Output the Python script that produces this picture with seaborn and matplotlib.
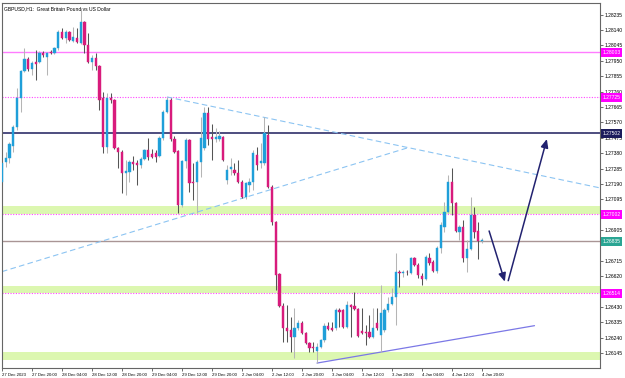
import numpy as np
import pandas as pd
import matplotlib
matplotlib.use("Agg")
import matplotlib.pyplot as plt
import matplotlib.transforms as mtransforms
import seaborn as sns

# ==========================================
# DATA  (GBPUSD H1, 27 Dec 2023 - 4 Jan 2024)
# ==========================================

opens = [1.27202, 1.27325, 1.27350, 1.27424, 1.27541, 1.27721, 1.27887, 1.27962, 1.27900, 1.27943,
         1.27943, 1.27999, 1.27974, 1.28005, 1.27999, 1.28030, 1.28128, 1.28091, 1.28128, 1.28073,
         1.28091, 1.28060, 1.28190, 1.28048, 1.27943, 1.27968, 1.27918, 1.27721, 1.27418, 1.27721,
         1.27708, 1.27412, 1.27387, 1.27257, 1.27263, 1.27325, 1.27319, 1.27307, 1.27344, 1.27399,
         1.27375, 1.27381, 1.27362, 1.27473, 1.27634, 1.27708, 1.27467, 1.27393, 1.27060, 1.27331,
         1.27461, 1.27202, 1.27202, 1.27325, 1.27412, 1.27628, 1.27480, 1.27467, 1.27467, 1.27480,
         1.27214, 1.27282, 1.27276, 1.27257, 1.27202, 1.27109, 1.27183, 1.27202, 1.27368, 1.27319,
         1.27319, 1.27492, 1.27171, 1.26955, 1.26633, 1.26436, 1.26300, 1.26287, 1.26244, 1.26300,
         1.26331, 1.26269, 1.26207, 1.26182, 1.26158, 1.26182, 1.26226, 1.26312, 1.26300, 1.26300,
         1.26411, 1.26411, 1.26306, 1.26442, 1.26436, 1.26417, 1.26281, 1.26275, 1.26275, 1.26244,
         1.26331, 1.26256, 1.26287, 1.26411, 1.26448, 1.26491, 1.26646, 1.26639, 1.26646, 1.26639,
         1.26732, 1.26689, 1.26621, 1.26602, 1.26732, 1.26707, 1.26652, 1.26794, 1.26924, 1.27016,
         1.27202, 1.27072, 1.26893, 1.26924, 1.26732, 1.26788, 1.26998, 1.26899, 1.26837]

highs = [1.27338, 1.27387, 1.27449, 1.27554, 1.27782, 1.27894, 1.28030, 1.27974, 1.27949, 1.28017,
         1.28011, 1.28011, 1.28005, 1.28017, 1.28036, 1.28141, 1.28153, 1.28141, 1.28134, 1.28159,
         1.28153, 1.28277, 1.28196, 1.28122, 1.27986, 1.27999, 1.27924, 1.27758, 1.27751, 1.27751,
         1.27714, 1.27418, 1.27399, 1.27338, 1.27338, 1.27362, 1.27338, 1.27356, 1.27406, 1.27473,
         1.27406, 1.27399, 1.27486, 1.27646, 1.27727, 1.27721, 1.27486, 1.27399, 1.27338, 1.27473,
         1.27467, 1.27319, 1.27338, 1.27603, 1.27665, 1.27665, 1.27560, 1.27535, 1.27517, 1.27486,
         1.27307, 1.27350, 1.27319, 1.27338, 1.27214, 1.27202, 1.27226, 1.27399, 1.27418, 1.27443,
         1.27603, 1.27554, 1.27183, 1.26961, 1.26639, 1.26454, 1.26442, 1.26368, 1.26423, 1.26349,
         1.26343, 1.26275, 1.26213, 1.26213, 1.26207, 1.26232, 1.26331, 1.26337, 1.26337, 1.26423,
         1.26423, 1.26417, 1.26466, 1.26448, 1.26522, 1.26423, 1.26423, 1.26318, 1.26380, 1.26423,
         1.26423, 1.26565, 1.26423, 1.26491, 1.26547, 1.26763, 1.26658, 1.26658, 1.26658, 1.26738,
         1.26738, 1.26701, 1.26639, 1.26751, 1.26763, 1.26720, 1.26806, 1.26955, 1.27078, 1.27245,
         1.27288, 1.27078, 1.26936, 1.26967, 1.26843, 1.27109, 1.27047, 1.26955, 1.26856]

lows = [1.27183, 1.27294, 1.27319, 1.27387, 1.27523, 1.27634, 1.27881, 1.27887, 1.27863, 1.27832,
        1.27937, 1.27974, 1.27863, 1.27992, 1.27992, 1.28017, 1.28085, 1.28060, 1.28073, 1.28067,
        1.28060, 1.28054, 1.27999, 1.27937, 1.27894, 1.27894, 1.27646, 1.27381, 1.27381, 1.27690,
        1.27406, 1.27288, 1.27134, 1.27121, 1.27202, 1.27276, 1.27183, 1.27288, 1.27338, 1.27338,
        1.27350, 1.27325, 1.27356, 1.27461, 1.27628, 1.27455, 1.27381, 1.27010, 1.27047, 1.27288,
        1.27140, 1.27090, 1.27010, 1.27233, 1.27399, 1.27430, 1.27338, 1.27449, 1.27455, 1.27331,
        1.27189, 1.27245, 1.27245, 1.27195, 1.27103, 1.27097, 1.27140, 1.27152, 1.27276, 1.27288,
        1.27307, 1.27164, 1.26936, 1.26534, 1.26429, 1.26213, 1.26213, 1.26151, 1.26114, 1.26287,
        1.26263, 1.26201, 1.26151, 1.26151, 1.26083, 1.26176, 1.26213, 1.26287, 1.26281, 1.26287,
        1.26306, 1.26300, 1.26300, 1.26244, 1.26411, 1.26244, 1.26263, 1.26195, 1.26238, 1.26238,
        1.26287, 1.26151, 1.26275, 1.26398, 1.26442, 1.26318, 1.26553, 1.26615, 1.26627, 1.26633,
        1.26683, 1.26609, 1.26565, 1.26596, 1.26689, 1.26646, 1.26639, 1.26763, 1.26893, 1.27010,
        1.26998, 1.26893, 1.26843, 1.26707, 1.26646, 1.26782, 1.26856, 1.26726, 1.26825]

closes = [1.27319, 1.27350, 1.27436, 1.27541, 1.27721, 1.27887, 1.27962, 1.27900, 1.27937, 1.27931,
          1.27999, 1.27986, 1.27999, 1.27996, 1.28030, 1.28128, 1.28091, 1.28128, 1.28079, 1.28097,
          1.28067, 1.28190, 1.28048, 1.27943, 1.27968, 1.27918, 1.27708, 1.27418, 1.27721, 1.27708,
          1.27412, 1.27387, 1.27257, 1.27270, 1.27325, 1.27313, 1.27307, 1.27344, 1.27399, 1.27356,
          1.27356, 1.27356, 1.27473, 1.27634, 1.27708, 1.27467, 1.27387, 1.27060, 1.27331, 1.27461,
          1.27195, 1.27195, 1.27325, 1.27473, 1.27628, 1.27467, 1.27467, 1.27480, 1.27486, 1.27338,
          1.27276, 1.27294, 1.27257, 1.27202, 1.27109, 1.27195, 1.27202, 1.27381, 1.27307, 1.27331,
          1.27504, 1.27171, 1.26955, 1.26627, 1.26436, 1.26300, 1.26281, 1.26244, 1.26300, 1.26331,
          1.26269, 1.26207, 1.26176, 1.26176, 1.26182, 1.26226, 1.26312, 1.26293, 1.26287, 1.26411,
          1.26398, 1.26306, 1.26442, 1.26429, 1.26417, 1.26250, 1.26269, 1.26269, 1.26244, 1.26300,
          1.26300, 1.26392, 1.26411, 1.26448, 1.26491, 1.26646, 1.26639, 1.26646, 1.26645, 1.26732,
          1.26689, 1.26627, 1.26602, 1.26738, 1.26701, 1.26652, 1.26794, 1.26936, 1.27016, 1.27202,
          1.27072, 1.26899, 1.26924, 1.26732, 1.26788, 1.26998, 1.26893, 1.26837, 1.26843]

# time axis labels (bar index -> label)
time_tick_bars = [0, 8, 16, 24, 32, 40, 48, 56, 64, 72, 80, 88, 96, 104, 112, 120, 128]
time_tick_labels = ["27 Dec 2023", "27 Dec 20:00", "28 Dec 04:00", "28 Dec 12:00", "28 Dec 20:00",
                    "29 Dec 04:00", "29 Dec 12:00", "29 Dec 20:00", "2 Jan 04:00", "2 Jan 12:00",
                    "2 Jan 20:00", "3 Jan 04:00", "3 Jan 12:00", "3 Jan 20:00", "4 Jan 04:00",
                    "4 Jan 12:00", "4 Jan 20:00"]

price_ticks = [1.28235, 1.28140, 1.28045, 1.27950, 1.27855, 1.27760, 1.27665, 1.27570, 1.27475,
               1.27380, 1.27285, 1.27190, 1.27095, 1.27000, 1.26905, 1.26810, 1.26715, 1.26620,
               1.26525, 1.26430, 1.26335, 1.26240, 1.26145]
# scale labels hidden behind the price tags
price_ticks_hidden = [1.27000, 1.26810, 1.26525]

# horizontal levels
level_solid_magenta = 1.28003
levels_dotted = [1.27725, 1.27002, 1.26514]
level_navy = 1.27502
level_bid = 1.26835

# supply / demand zones (bottom, top)
zones = [(1.27004, 1.27053), (1.26516, 1.26559), (1.26102, 1.26153)]

# drawn trend lines: (bar, price) pairs
trend_down = [(44, 1.27727), (159.5, 1.27165)]
trend_up = [(0, 1.26648), (108.5, 1.27415)]
support = [(84, 1.26083), (142, 1.26314)]
arrow_down = [(129.9, 1.26899), (134.1, 1.26586)]
arrow_up = [(135.0, 1.26592), (145.3, 1.27467)]

# ==========================================
# STYLE
# ==========================================

sns.set_style("white")
plt.rcParams["font.family"] = ["Liberation Sans", "DejaVu Sans"]

BULL = "#1f9fd9"
BEAR = "#d81b7c"
BULL_WICK = "#b5b5b5"
BEAR_WICK = "#555555"
FS = 3.6

df = pd.DataFrame({"open": opens, "high": highs, "low": lows, "close": closes})
df["bar"] = np.arange(len(df))
df["bull"] = df["close"] >= df["open"]

fig = plt.figure(figsize=(6.25, 3.78), dpi=100)
ax = fig.add_axes([2 / 625, 10 / 378, 598 / 625, 365 / 378])

ymin, ymax = 1.260525, 1.283075
ax.set_xlim(0, 159.47)
ax.set_ylim(ymin, ymax)

# zones
for lo, hi in zones:
    ax.axhspan(lo, hi, color="#dcf7b0", lw=0, zorder=0)

# levels
ax.axhline(level_solid_magenta, color="#ff7cff", lw=1.0, zorder=1)
for lv in levels_dotted:
    ax.axhline(lv, color="#ff44ff", lw=0.8, ls=(0, (1.0, 1.4)), zorder=1)
ax.axhline(level_navy, color="#1c1c5c", lw=1.1, zorder=1)
ax.axhline(level_bid, color="#a99595", lw=1.0, zorder=1)

# trend lines
tl = pd.DataFrame(trend_down + trend_up, columns=["bar", "price"])
tl["line"] = ["down"] * len(trend_down) + ["up"] * len(trend_up)
for name, g in tl.groupby("line"):
    ax.plot(g["bar"], g["price"], color="#8cc4f2", lw=0.8, ls=(0, (5, 3)), zorder=1.5)

sup = pd.DataFrame(support, columns=["bar", "price"])
sns.lineplot(data=sup, x="bar", y="price", ax=ax, color="#7b78e6", lw=0.9, zorder=1.5)

# candles
w = 0.62
for bull, g in df.groupby("bull"):
    ax.vlines(g["bar"], g["low"], g["high"], color=BULL_WICK if bull else BEAR_WICK,
              lw=0.75, zorder=2)
    body = (g["close"] - g["open"]).abs().clip(lower=0.000012)
    bottom = g[["open", "close"]].min(axis=1)
    ax.bar(g["bar"], body, bottom=bottom, width=w, color=BULL if bull else BEAR,
           edgecolor=BULL if bull else BEAR, lw=0.3, zorder=3)

# arrows
for (x0, y0), (x1, y1) in [arrow_down, arrow_up]:
    ax.annotate("", xy=(x1, y1), xytext=(x0, y0),
                arrowprops=dict(arrowstyle="-|>,head_length=0.5,head_width=0.22",
                                color="#222270", lw=1.1, shrinkA=0, shrinkB=0),
                zorder=4)

# axes cosmetics
for s in ax.spines.values():
    s.set_color("#666666")
    s.set_linewidth(0.8)

ax.yaxis.tick_right()
ax.set_yticks(price_ticks)
ax.set_yticklabels(["" if p in price_ticks_hidden else f"{p:.5f}" for p in price_ticks])
ax.set_xticks(time_tick_bars)
ax.set_xticklabels(time_tick_labels)
ax.tick_params(axis="both", which="both", direction="out", length=2.2, width=0.6,
               colors="#555555", labelcolor="black", pad=1.2)
ax.tick_params(axis="y", right=True, left=False, labelsize=FS)
ax.tick_params(axis="x", bottom=True, labelsize=3.1)
for lab in ax.get_xticklabels():
    lab.set_ha("left")
ax.set_xlabel("")
ax.set_ylabel("")

# price labels on the scale
trans = mtransforms.blended_transform_factory(ax.transAxes, ax.transData)
tags = [(level_solid_magenta, "#ff00ff"), (levels_dotted[0], "#ff00ff"),
        (level_navy, "#1c1c5c"), (levels_dotted[1], "#ff00ff"),
        (level_bid, "#2aa593"), (levels_dotted[2], "#ff00ff")]
for val, col in tags:
    ax.text(1.004, val, f"{val:.5f}", transform=trans, ha="left", va="center",
            fontsize=FS, color="white", zorder=6, clip_on=False,
            bbox=dict(boxstyle="square,pad=0.35", fc=col, ec=col, lw=0))

ax.text(0.004, 0.992, "GBPUSD,H1:  Great Britain Pound vs US Dollar", transform=ax.transAxes,
        ha="left", va="top", fontsize=FS, color="black")

fig.savefig("out.png", dpi=100)
